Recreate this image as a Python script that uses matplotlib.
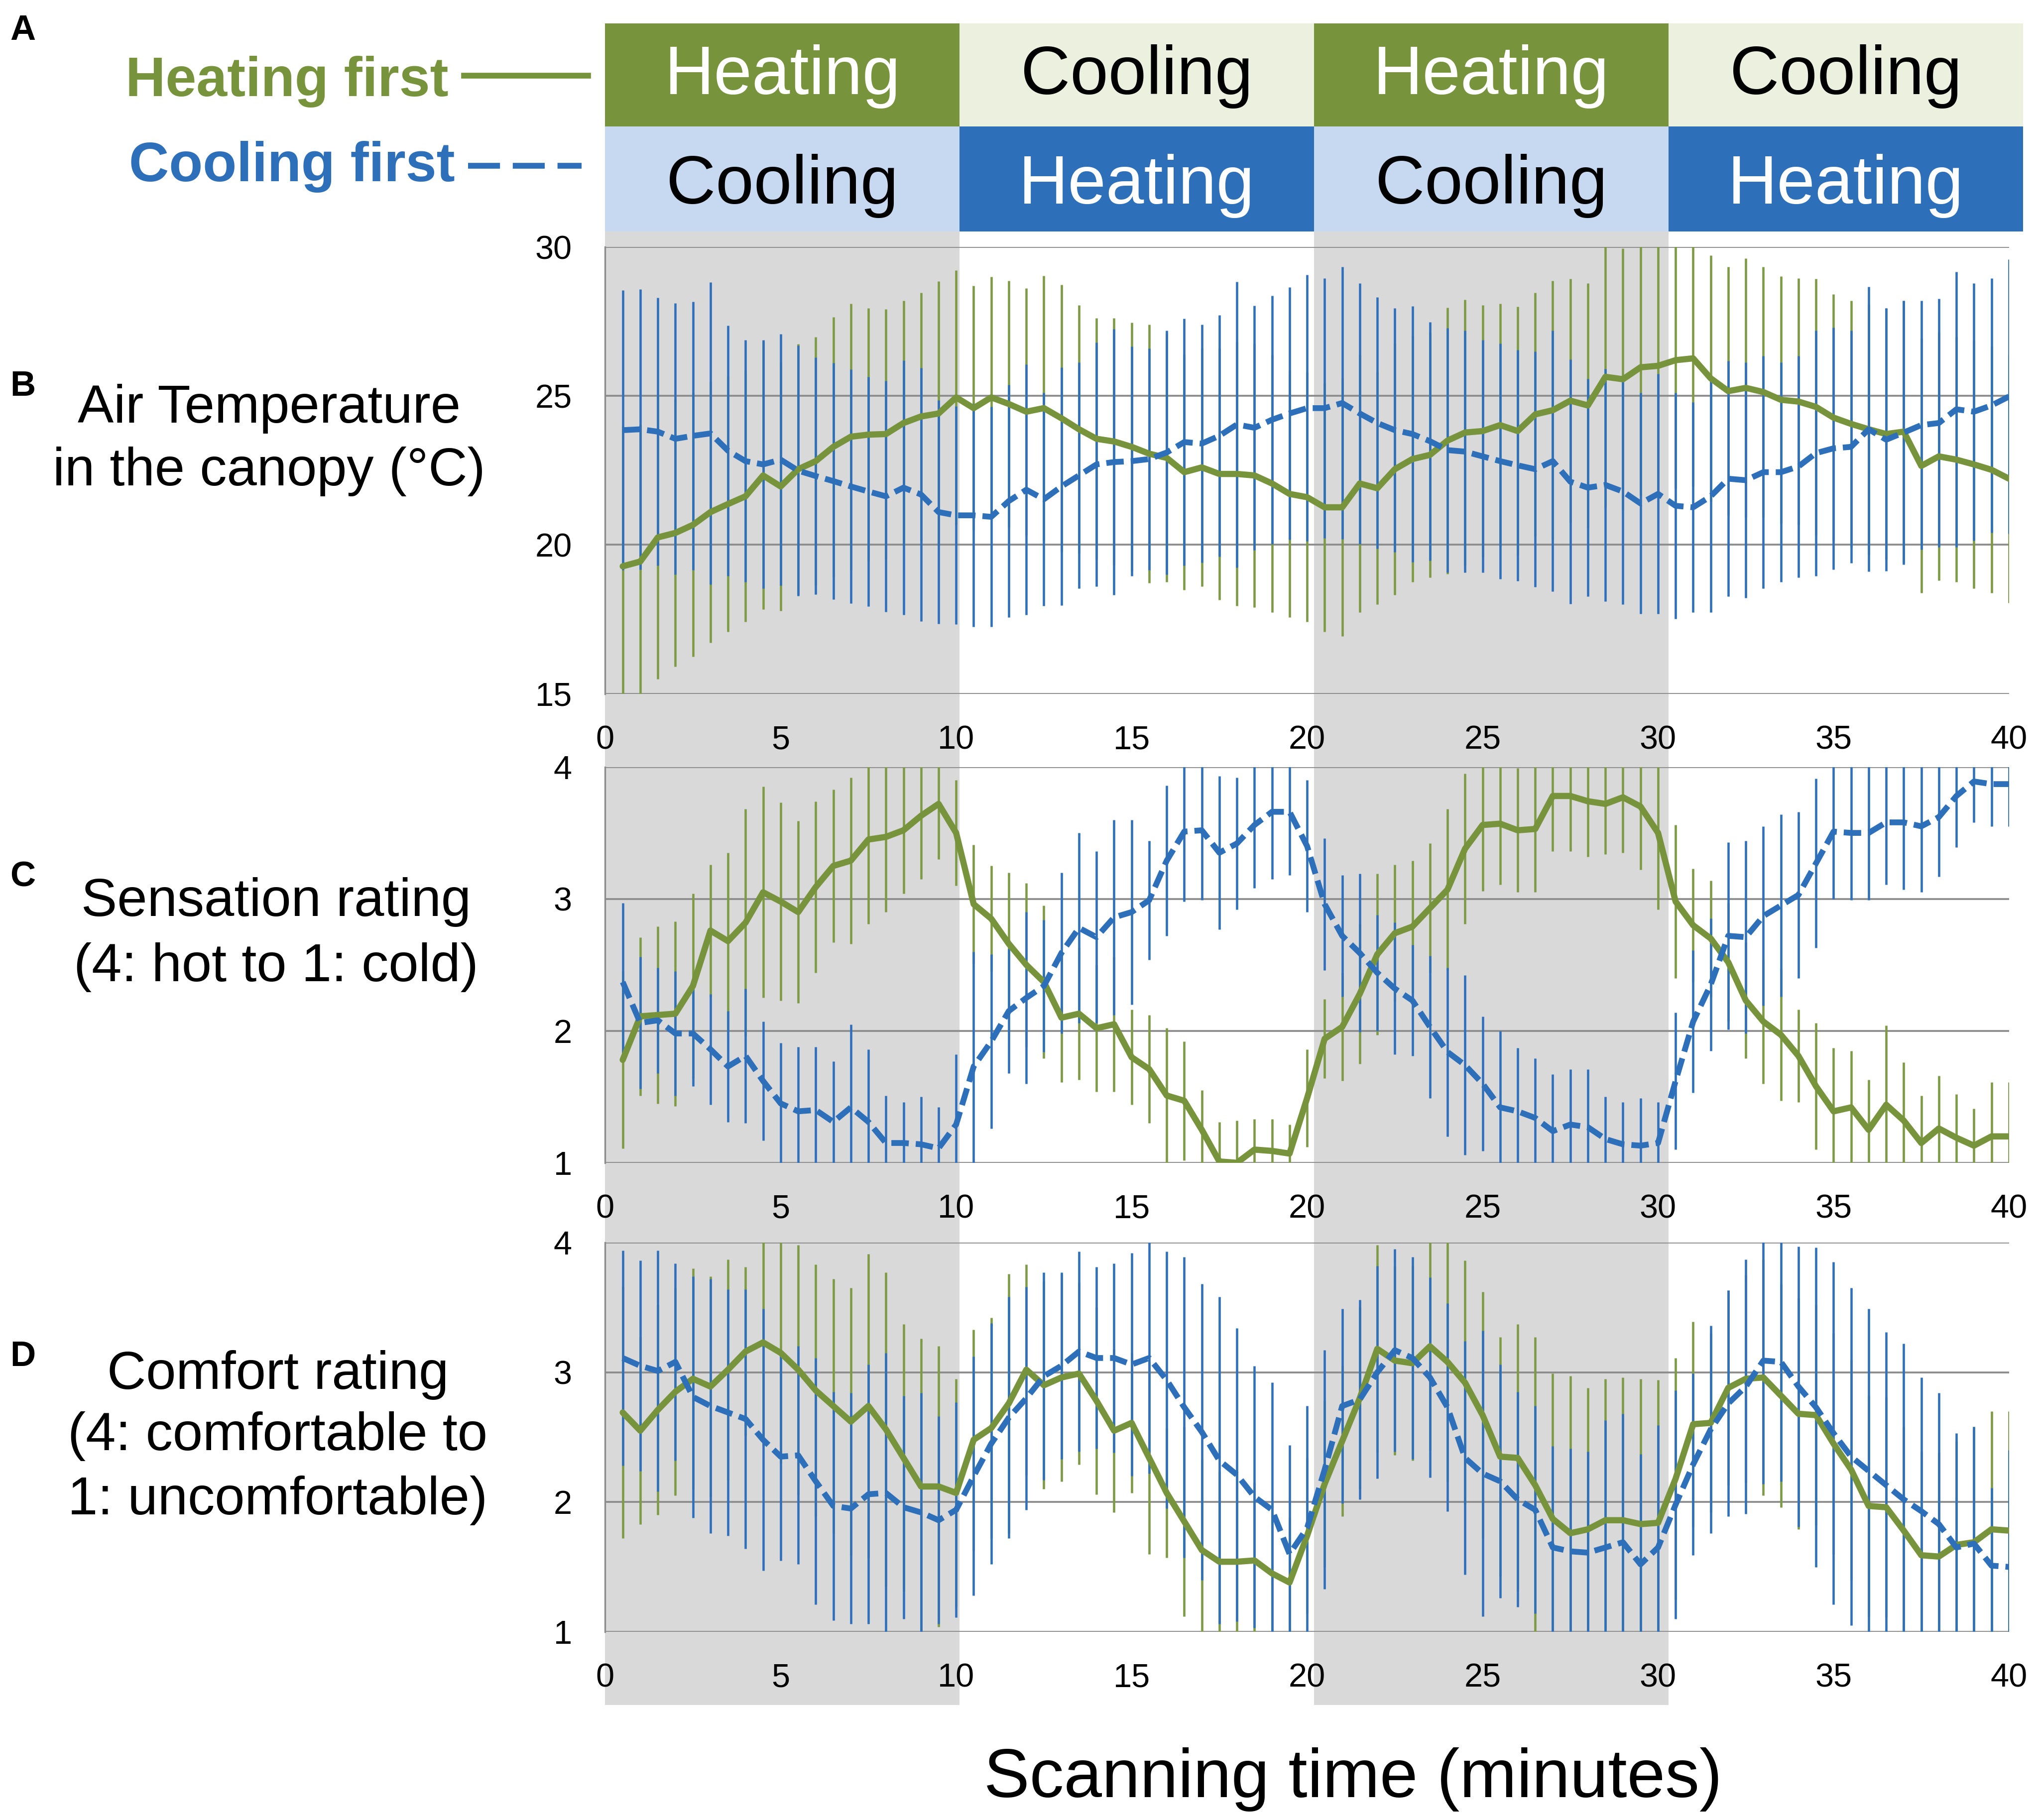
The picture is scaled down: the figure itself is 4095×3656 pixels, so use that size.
import numpy as np
import matplotlib
matplotlib.use("Agg")
import matplotlib.pyplot as plt
from matplotlib.patches import Rectangle
from matplotlib.lines import Line2D

plt.rcParams['font.family'] = ['Liberation Sans', 'DejaVu Sans']

# sampling grid (minutes)
TIME = np.arange(0.5, 40.01, 0.5)

# --- B: air temperature in the canopy (mean, sd) ---
air_heat = [19.28, 19.44, 20.25, 20.4, 20.67, 21.1, 21.37, 21.63, 22.33, 21.96,
            22.54, 22.81, 23.29, 23.63, 23.7, 23.72, 24.09, 24.31, 24.41, 24.95,
            24.59, 24.95, 24.73, 24.47, 24.59, 24.25, 23.88, 23.56, 23.47, 23.29,
            23.06, 22.92, 22.44, 22.6, 22.38, 22.38, 22.33, 22.06, 21.71, 21.6,
            21.26, 21.26, 22.06, 21.9, 22.54, 22.88, 23.02, 23.5, 23.77, 23.82,
            24.02, 23.82, 24.38, 24.52, 24.84, 24.68, 25.64, 25.56, 25.96, 26.01,
            26.2, 26.26, 25.59, 25.16, 25.27, 25.13, 24.87, 24.81, 24.63, 24.27,
            24.06, 23.88, 23.72, 23.8, 22.65, 22.97, 22.86, 22.7, 22.52, 22.22]
air_heat_sd = [4.7, 4.6, 4.75, 4.48, 4.43, 4.38, 4.28, 4.22, 4.5, 4.17,
               4.2, 4.17, 4.36, 4.47, 4.24, 4.2, 4.1, 4.16, 4.44, 4.27,
               4.1, 4.05, 4.14, 4.14, 4.44, 4.49, 4.16, 4.06, 4.15, 4.17,
               4.34, 4.17, 3.96, 4.0, 4.22, 4.43, 4.43, 4.32, 4.14, 4.19,
               4.17, 4.33, 4.32, 3.9, 4.22, 4.13, 4.11, 4.47, 4.46, 4.22,
               4.08, 4.17, 4.09, 4.35, 4.09, 4.11, 4.4, 4.4, 4.3, 4.3,
               4.3, 4.3, 4.13, 4.17, 4.35, 4.2, 4.14, 4.14, 4.3, 4.15,
               4.14, 4.2, 4.22, 4.4, 4.27, 4.17, 4.11, 4.16, 4.14, 4.16]
air_cool = [23.85, 23.88, 23.8, 23.56, 23.66, 23.74, 23.16, 22.81, 22.7, 22.86,
            22.49, 22.31, 22.14, 21.96, 21.79, 21.63, 21.92, 21.69, 21.1, 20.99,
            20.99, 20.94, 21.47, 21.85, 21.53, 21.96, 22.33, 22.7, 22.78, 22.81,
            22.88, 23.1, 23.45, 23.4, 23.66, 24.04, 23.93, 24.2, 24.41, 24.59,
            24.59, 24.76, 24.41, 24.09, 23.85, 23.72, 23.48, 23.18, 23.13, 22.97,
            22.81, 22.67, 22.54, 22.81, 22.12, 21.92, 22.01, 21.79, 21.39, 21.71,
            21.31, 21.26, 21.63, 22.22, 22.17, 22.44, 22.44, 22.63, 23.08, 23.24,
            23.29, 23.88, 23.53, 23.77, 24.02, 24.09, 24.55, 24.47, 24.68, 24.98]
air_cool_sd = [4.7, 4.7, 4.5, 4.56, 4.5, 5.07, 4.2, 4.06, 4.17, 4.22,
               4.2, 3.98, 3.97, 3.93, 3.85, 3.87, 4.27, 4.25, 3.75, 3.66,
               3.74, 3.69, 3.9, 4.2, 3.58, 3.99, 3.8, 4.1, 4.46, 3.85,
               3.72, 4.1, 4.15, 4.0, 4.06, 4.8, 4.1, 4.17, 4.24, 4.47,
               4.36, 4.57, 4.38, 4.22, 4.09, 4.3, 4.0, 4.1, 4.06, 3.9,
               3.95, 3.88, 3.96, 4.38, 4.1, 3.65, 3.9, 3.79, 3.71, 4.03,
               3.79, 3.52, 3.9, 3.95, 3.95, 3.9, 3.69, 3.72, 4.12, 4.06,
               3.9, 4.78, 4.41, 4.43, 4.18, 4.17, 4.62, 4.32, 4.27, 4.61]

# --- C: sensation rating ---
sens_heat = [1.78, 2.11, 2.12, 2.13, 2.34, 2.76, 2.68, 2.82, 3.05, 2.98,
             2.90, 3.09, 3.25, 3.29, 3.45, 3.47, 3.52, 3.63, 3.72, 3.50,
             2.96, 2.85, 2.66, 2.50, 2.37, 2.10, 2.13, 2.02, 2.05, 1.80,
             1.71, 1.51, 1.47, 1.25, 1.01, 1.00, 1.10, 1.09, 1.07, 1.49,
             1.94, 2.03, 2.28, 2.58, 2.74, 2.79, 2.93, 3.07, 3.38, 3.56,
             3.57, 3.52, 3.53, 3.78, 3.78, 3.74, 3.72, 3.77, 3.70, 3.50,
             2.98, 2.80, 2.70, 2.52, 2.23, 2.07, 1.97, 1.81, 1.58, 1.39,
             1.42, 1.25, 1.44, 1.32, 1.15, 1.26, 1.19, 1.13, 1.20, 1.20]
sens_heat_sd = [0.67, 0.6, 0.67, 0.7, 0.7, 0.5, 0.67, 0.86, 0.8, 0.75,
                0.69, 0.65, 0.58, 0.63, 0.64, 0.57, 0.48, 0.48, 0.42, 0.4,
                0.45, 0.4, 0.54, 0.62, 0.58, 0.49, 0.5, 0.48, 0.51, 0.36,
                0.41, 0.51, 0.45, 0.3, 0.3, 0.32, 0.23, 0.24, 0.22, 0.37,
                0.3, 0.41, 0.53, 0.61, 0.52, 0.5, 0.49, 0.61, 0.57, 0.5,
                0.46, 0.47, 0.48, 0.42, 0.42, 0.42, 0.38, 0.42, 0.48, 0.58,
                0.58, 0.43, 0.44, 0.45, 0.44, 0.47, 0.5, 0.35, 0.48, 0.48,
                0.43, 0.38, 0.6, 0.44, 0.36, 0.4, 0.33, 0.28, 0.41, 0.41]
sens_cool = [2.37, 2.06, 2.08, 1.98, 1.98, 1.86, 1.73, 1.81, 1.62, 1.45,
             1.39, 1.40, 1.31, 1.42, 1.31, 1.15, 1.15, 1.14, 1.11, 1.29,
             1.73, 1.92, 2.15, 2.25, 2.34, 2.59, 2.78, 2.71, 2.86, 2.90,
             2.99, 3.29, 3.51, 3.52, 3.35, 3.42, 3.56, 3.66, 3.66, 3.40,
             2.96, 2.72, 2.59, 2.44, 2.32, 2.23, 2.03, 1.84, 1.74, 1.60,
             1.42, 1.39, 1.34, 1.24, 1.29, 1.27, 1.18, 1.14, 1.13, 1.15,
             1.62, 2.07, 2.35, 2.72, 2.71, 2.87, 2.95, 3.03, 3.27, 3.51,
             3.50, 3.50, 3.58, 3.58, 3.55, 3.62, 3.78, 3.89, 3.87, 3.87]
sens_cool_sd = [0.6, 0.5, 0.4, 0.47, 0.4, 0.42, 0.42, 0.51, 0.45, 0.46,
                0.49, 0.48, 0.46, 0.63, 0.55, 0.36, 0.31, 0.36, 0.31, 0.53,
                0.87, 0.66, 0.47, 0.65, 0.5, 0.61, 0.72, 0.65, 0.74, 0.7,
                0.45, 0.57, 0.53, 0.53, 0.58, 0.5, 0.48, 0.51, 0.48, 0.5,
                0.5, 0.46, 0.6, 0.44, 0.5, 0.42, 0.54, 0.64, 0.68, 0.51,
                0.58, 0.48, 0.45, 0.43, 0.42, 0.44, 0.32, 0.32, 0.36, 0.31,
                0.52, 0.54, 0.5, 0.71, 0.73, 0.68, 0.69, 0.63, 0.64, 0.51,
                0.51, 0.51, 0.47, 0.51, 0.5, 0.45, 0.39, 0.31, 0.32, 0.32]

# --- D: comfort rating ---
comf_heat = [2.69, 2.55, 2.71, 2.85, 2.95, 2.89, 3.02, 3.16, 3.23, 3.15,
             3.02, 2.86, 2.74, 2.62, 2.74, 2.56, 2.34, 2.12, 2.12, 2.07,
             2.48, 2.57, 2.76, 3.02, 2.90, 2.96, 2.99, 2.78, 2.55, 2.61,
             2.34, 2.07, 1.85, 1.63, 1.54, 1.54, 1.55, 1.45, 1.38, 1.74,
             2.14, 2.47, 2.80, 3.18, 3.09, 3.07, 3.20, 3.08, 2.92, 2.67,
             2.35, 2.34, 2.13, 1.87, 1.76, 1.79, 1.86, 1.86, 1.83, 1.84,
             2.18, 2.60, 2.61, 2.88, 2.95, 2.96, 2.82, 2.68, 2.67, 2.45,
             2.25, 1.97, 1.96, 1.78, 1.59, 1.58, 1.67, 1.69, 1.79, 1.78]
comf_heat_sd = [0.97, 0.72, 0.81, 0.8, 0.85, 0.85, 0.85, 0.65, 0.8, 0.85,
                0.96, 0.97, 0.98, 1.03, 1.17, 1.21, 1.03, 1.14, 1.08, 0.88,
                0.85, 0.85, 1.0, 0.81, 0.8, 0.8, 0.7, 0.72, 0.63, 0.54,
                0.74, 0.5, 0.73, 0.7, 0.7, 0.7, 0.6, 0.55, 0.5, 0.6,
                0.64, 0.58, 0.7, 0.8, 0.73, 0.75, 0.8, 0.92, 0.94, 0.95,
                0.92, 1.03, 1.14, 1.12, 1.21, 1.09, 1.09, 1.1, 1.12, 1.1,
                0.93, 0.79, 0.69, 0.75, 0.8, 0.91, 0.86, 0.89, 0.85, 0.85,
                0.85, 0.85, 0.85, 0.8, 0.8, 0.8, 0.8, 0.89, 0.91, 0.92]
comf_cool = [3.11, 3.05, 3.01, 3.08, 2.81, 2.74, 2.69, 2.64, 2.48, 2.35,
             2.36, 2.16, 1.97, 1.95, 2.06, 2.07, 1.96, 1.92, 1.86, 1.94,
             2.20, 2.45, 2.65, 2.80, 2.97, 3.05, 3.16, 3.11, 3.11, 3.06,
             3.11, 2.94, 2.73, 2.54, 2.32, 2.21, 2.04, 1.94, 1.60, 1.80,
             2.25, 2.74, 2.79, 3.00, 3.17, 3.11, 2.96, 2.73, 2.34, 2.22,
             2.16, 2.02, 1.94, 1.65, 1.62, 1.61, 1.65, 1.69, 1.52, 1.65,
             1.98, 2.29, 2.56, 2.76, 2.89, 3.09, 3.08, 2.89, 2.73, 2.53,
             2.35, 2.24, 2.13, 2.02, 1.93, 1.83, 1.65, 1.68, 1.51, 1.50]
comf_cool_sd = [0.83, 0.81, 0.93, 0.76, 0.93, 0.98, 0.95, 1.0, 1.01, 0.8,
                0.84, 0.95, 0.88, 0.89, 1.0, 1.08, 0.86, 0.92, 0.8, 0.83,
                0.92, 0.93, 0.93, 0.86, 0.8, 0.72, 0.77, 0.7, 0.73, 0.86,
                0.89, 0.99, 1.16, 1.14, 1.26, 1.13, 1.01, 0.98, 0.84, 0.94,
                0.92, 0.75, 0.77, 0.82, 0.78, 0.78, 0.77, 0.8, 0.9, 1.1,
                0.9, 0.83, 0.8, 0.78, 0.79, 0.78, 0.98, 0.99, 0.85, 0.94,
                0.88, 0.7, 0.8, 0.87, 0.98, 0.95, 0.92, 1.08, 1.23, 1.32,
                1.3, 1.25, 1.18, 1.2, 1.03, 1.01, 0.88, 0.9, 0.6, 0.9]

# header phases
phases_heat_first = ["Heating", "Cooling", "Heating", "Cooling"]
phases_cool_first = ["Cooling", "Heating", "Cooling", "Heating"]

GREEN = "#77933c"
GREEN_BAR = "#7d9a45"
BLUE = "#2e6fba"
BLUE_BAR = "#2f70bd"
GRID = "#8c8c8c"
SHADE = "#d9d9d9"

fig = plt.figure(figsize=(13.65, 12.1867), dpi=300)

AX_L, AX_W = 0.2968, 0.6885
panels = [
    # (bottom, height, ylim, yticks, heat, heat_sd, cool, cool_sd)
    (0.6188, 0.8643 - 0.6188, (15, 30), [15, 20, 25, 30], air_heat, air_heat_sd, air_cool, air_cool_sd),
    (0.3611, 0.5786 - 0.3611, (1, 4), [1, 2, 3, 4], sens_heat, sens_heat_sd, sens_cool, sens_cool_sd),
    (0.1034, 0.3173 - 0.1034, (1, 4), [1, 2, 3, 4], comf_heat, comf_heat_sd, comf_cool, comf_cool_sd),
]


def fx(m):
    # minutes -> figure fraction
    return AX_L + AX_W * m / 40.0


# grey bands under the "Cooling first: cooling" periods
edges = [0, 10.1, 20.2, 30.3, 40.4]
for i in (0, 2):
    fig.patches.append(Rectangle((fx(edges[i]), 0.0632), fx(edges[i + 1]) - fx(edges[i]), 0.8729 - 0.0632,
                                 transform=fig.transFigure, facecolor=SHADE, edgecolor="none", zorder=-5))

for bottom, height, ylim, yticks, h, hsd, c, csd in panels:
    ax = fig.add_axes([AX_L, bottom, AX_W, height])
    ax.set_facecolor("none")
    h, hsd, c, csd = map(np.array, (h, hsd, c, csd))
    ax.vlines(TIME, h - hsd, h + hsd, color=GREEN_BAR, lw=1.1, zorder=2)
    ax.vlines(TIME, c - csd, c + csd, color=BLUE_BAR, lw=1.1, zorder=3)
    ax.plot(TIME, h, color=GREEN, lw=3.0, solid_capstyle="round", solid_joinstyle="round", zorder=4)
    ax.plot(TIME, c, color=BLUE, lw=2.8, dashes=(3.0, 1.2), zorder=5)
    ax.set_xlim(0, 40)
    ax.set_ylim(*ylim)
    ax.set_yticks(yticks)
    ax.set_xticks(range(0, 41, 5))
    ax.grid(axis="y", color=GRID, lw=0.9)
    ax.set_axisbelow(True)
    for s in ("top", "right", "bottom"):
        ax.spines[s].set_visible(False)
    ax.spines["left"].set_color(GRID)
    ax.spines["left"].set_linewidth(0.8)
    ax.tick_params(axis="both", length=0, labelsize=16)
    ax.tick_params(axis="x", pad=15)
    ax.tick_params(axis="y", pad=16)

# header table
row1 = (0.9304, 0.9871 - 0.9304)
row2 = (0.8729, 0.9304 - 0.8729)
for i in range(4):
    x0, x1 = fx(edges[i]), fx(edges[i + 1])
    ph = phases_heat_first[i]
    fc = GREEN if ph == "Heating" else "#ebf1de"
    tc = "white" if ph == "Heating" else "black"
    fig.patches.append(Rectangle((x0, row1[0]), x1 - x0, row1[1], transform=fig.transFigure,
                                 facecolor=fc, edgecolor="none"))
    fig.text((x0 + x1) / 2, 0.9483, ph, color=tc, fontsize=33, ha="center", va="baseline")
    ph = phases_cool_first[i]
    fc = BLUE if ph == "Heating" else "#c6d9f0"
    tc = "white" if ph == "Heating" else "black"
    fig.patches.append(Rectangle((x0, row2[0]), x1 - x0, row2[1], transform=fig.transFigure,
                                 facecolor=fc, edgecolor="none"))
    fig.text((x0 + x1) / 2, 0.888, ph, color=tc, fontsize=33, ha="center", va="baseline")

# legend-like labels
fig.text(0.2199, 0.9472, "Heating first", color=GREEN, fontsize=26.7, fontweight="bold", ha="right", va="baseline")
fig.add_artist(Line2D([0.2276, 0.2885], [0.9584, 0.9584], transform=fig.transFigure, color=GREEN, lw=2.8))
fig.text(0.2231, 0.9004, "Cooling first", color=BLUE, fontsize=26.7, fontweight="bold", ha="right", va="baseline")
fig.add_artist(Line2D([0.2295, 0.2853], [0.9088, 0.9088], transform=fig.transFigure, color=BLUE, lw=2.8,
                      dashes=(5.5, 2.2)))

# row titles
fig.text(0.1319, 0.7678, "Air Temperature", fontsize=26, ha="center", va="baseline")
fig.text(0.1319, 0.7333, "in the canopy (°C)", fontsize=26, ha="center", va="baseline")
fig.text(0.1355, 0.4968, "Sensation rating", fontsize=26, ha="center", va="baseline")
fig.text(0.1355, 0.4609, "(4: hot to 1: cold)", fontsize=26, ha="center", va="baseline")
fig.text(0.1362, 0.2369, "Comfort rating", fontsize=26, ha="center", va="baseline")
fig.text(0.1362, 0.2032, "(4: comfortable to", fontsize=26, ha="center", va="baseline")
fig.text(0.1362, 0.1680, "1: uncomfortable)", fontsize=26, ha="center", va="baseline")

# panel letters
for letter, y in zip("ABCD", [0.9781, 0.7826, 0.5131, 0.2495]):
    fig.text(0.005, y, letter, fontsize=17, fontweight="bold", ha="left", va="baseline")

fig.text(0.6635, 0.0125, "Scanning time (minutes)", fontsize=33, ha="center", va="baseline")

fig.savefig("out.png", dpi=300, facecolor="white")
